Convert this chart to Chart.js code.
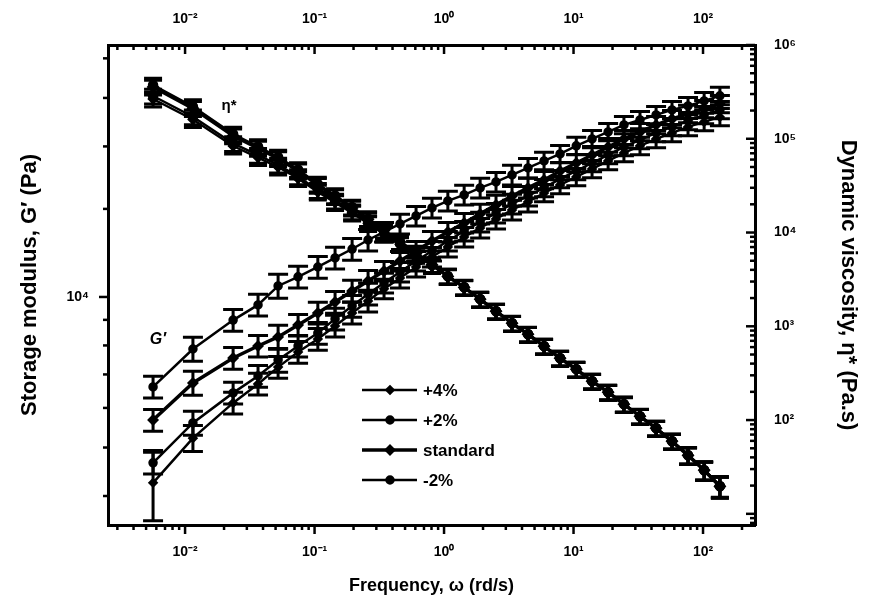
<!DOCTYPE html>
<html>
<head>
<meta charset="utf-8">
<title>Storage modulus and dynamic viscosity vs frequency</title>
<script src="https://cdn.jsdelivr.net/npm/chart.js@4.4.1/dist/chart.umd.min.js"></script>
<style>
  html, body { margin: 0; padding: 0; background: #fff; }
  #wrap { width: 875px; height: 608px; position: relative; }
</style>
</head>
<body>
<div id="wrap"><canvas id="chart"></canvas></div>
<script>
// frequency, rd/s
const freq = [0.00566, 0.0115, 0.0235, 0.0366, 0.0523, 0.0746, 0.106, 0.144, 0.195, 0.259, 0.344, 0.457, 0.608, 0.807,
  1.07, 1.43, 1.90, 2.52, 3.35, 4.45, 5.92, 7.87, 10.5, 13.9, 18.5, 24.5, 32.6, 43.4, 57.6, 76.6, 102, 135];

const seriesNames = ['+4%', '+2%', 'standard', '-2%'];

// storage modulus G' (Pa)
const gPlus4 = [4250, 5220, 6140, 6700, 7240, 7760, 8240, 8750, 9290, 9820, 10380, 10910, 11480, 12020, 12590, 13180,
  13740, 14320, 14930, 15490, 16140, 16750, 17380, 18030, 18710, 19410, 20050, 20700, 21280, 21880, 22390, 22910];
const gPlus2 = [4660, 5600, 6430, 6950, 7480, 7980, 8470, 9040, 9590, 10140, 10670, 11220, 11800, 12360, 12940, 13550,
  14130, 14720, 15350, 15920, 16520, 17220, 17860, 18530, 19230, 19950, 20610, 21280, 21880, 22490, 23120, 23660];
const gStd = [5675, 6730, 7550, 7980, 8320, 8790, 9290, 9770, 10280, 10760, 11270, 11800, 12360, 12940, 13490, 14060,
  14660, 15280, 15920, 16520, 17140, 17860, 18530, 19230, 19950, 20700, 21380, 22080, 22700, 23230, 23770, 24320];
const gMinus2 = [6610, 7870, 8990, 9640, 10520, 10970, 11480, 11970, 12470, 13000, 13490, 14000, 14520, 15070, 15560, 16000,
  16520, 16980, 17540, 18110, 18710, 19320, 20050, 20700, 21380, 22080, 22590, 23120, 23660, 24100, 24660, 25240];

// dynamic viscosity eta* (Pa.s)
const etaPlus4 = [265500, 160500, 83680, 63100, 49960, 37670, 27040, 20890, 16140, 12470, 9640, 7450, 5750, 4450, 3430, 2615,
  1948, 1452, 1080, 825, 615, 458, 350, 261, 199, 148, 110.5, 82.5, 60, 42.5, 29.5, 20];
const etaPlus2 = [285800, 171900, 89160, 66880, 52660, 39500, 28200, 21680, 16660, 12810, 9840, 7570, 5815, 4470, 3420, 2610,
  1950, 1450, 1080, 824, 614, 457, 349, 260, 198, 148, 110, 82, 59.5, 42.2, 29.2, 19.7];
const etaStd = [356500, 211000, 107700, 79530, 61690, 45530, 32010, 24210, 18320, 13860, 10480, 7930, 6000, 4540, 3400, 2600,
  1940, 1450, 1075, 822, 612, 456, 348, 259, 198, 147, 109.5, 81.6, 59.3, 42.0, 29.1, 19.6];
const etaMinus2 = [374500, 220800, 112400, 82670, 63890, 46990, 32920, 24800, 18710, 14110, 10630, 8020, 6045, 4556, 3436, 2622,
  1953, 1455, 1083, 827, 616, 459, 350, 261, 199, 148, 110, 82.2, 59.7, 42.3, 29.3, 19.8];

// relative error (fraction of value)
const errG = [0.05, 0.055, 0.05, 0.05, 0.055, 0.05, 0.05, 0.05, 0.05, 0.05, 0.045, 0.045, 0.045, 0.045, 0.045, 0.045,
  0.045, 0.045, 0.045, 0.045, 0.04, 0.04, 0.04, 0.04, 0.04, 0.04, 0.04, 0.04, 0.04, 0.04, 0.04, 0.04];
const errGPlus4 = [0.16, 0.06, 0.05, 0.05, 0.05, 0.05, 0.05, 0.05, 0.05, 0.05, 0.045, 0.045, 0.045, 0.045, 0.045, 0.045,
  0.045, 0.045, 0.045, 0.045, 0.04, 0.04, 0.04, 0.04, 0.04, 0.04, 0.04, 0.04, 0.04, 0.04, 0.04, 0.04];
const errEta = [0.18, 0.18, 0.18, 0.18, 0.18, 0.18, 0.18, 0.18, 0.18, 0.18, 0.18, 0.18, 0.18, 0.18, 0.18, 0.18,
  0.18, 0.18, 0.18, 0.18, 0.18, 0.18, 0.18, 0.18, 0.18, 0.18, 0.18, 0.18, 0.18, 0.2, 0.22, 0.25];

// axis ranges and ticks
const freqMin = 0.00254, freqMax = 252;
const gMin = 3500, gMax = 31900;
const etaMin = 7.6, etaMax = 1000000;

const xMajor = [0.01, 0.1, 1, 10, 100];
const xTickLabels = ['10⁻²', '10⁻¹', '10⁰', '10¹', '10²'];
const xMinor = [0.003, 0.004, 0.005, 0.006, 0.007, 0.008, 0.009, 0.02, 0.03, 0.04, 0.05, 0.06, 0.07, 0.08, 0.09,
  0.2, 0.3, 0.4, 0.5, 0.6, 0.7, 0.8, 0.9, 2, 3, 4, 5, 6, 7, 8, 9, 20, 30, 40, 50, 60, 70, 80, 90, 200];
const gMajor = [10000];
const gTickLabels = ['10⁴'];
const gMinor = [4000, 5000, 6000, 7000, 8000, 9000, 15000, 20000, 25000, 30000];
const etaMajor = [10, 100, 1000, 10000, 100000, 1000000];
const etaTickLabels = ['', '10²', '10³', '10⁴', '10⁵', '10⁶'];
const etaMinor = [8, 9, 20, 30, 40, 50, 60, 70, 80, 90, 200, 300, 400, 500, 600, 700, 800, 900,
  2000, 3000, 4000, 5000, 6000, 7000, 8000, 9000, 20000, 30000, 40000, 50000, 60000, 70000, 80000, 90000,
  200000, 300000, 400000, 500000, 600000, 700000, 800000, 900000];

const FONT = 'Liberation Sans, Arial, Helvetica, sans-serif';

// line look per series (+4%, +2%, standard, -2%)
const lineWidths = [2.5, 2.5, 3.5, 2.5];
const markers = ['rectRot', 'circle', 'rectRot', 'circle'];

const gSeries = [gPlus4, gPlus2, gStd, gMinus2];
const etaSeries = [etaPlus4, etaPlus2, etaStd, etaMinus2];
const gErrors = [errGPlus4, errG, errG, errG];

const toPoints = (ys) => freq.map((f, i) => ({ x: f, y: ys[i] }));

const datasets = [];
seriesNames.forEach((name, k) => {
    datasets.push({
        label: name,
        data: toPoints(gSeries[k]),
        yAxisID: 'y',
        errors: gErrors[k],
        capHalf: 10,
        borderColor: '#000',
        backgroundColor: '#000',
        borderWidth: lineWidths[k],
        pointStyle: markers[k],
        pointRadius: 3.5,
        showLine: true,
    });
});
seriesNames.forEach((name, k) => {
    datasets.push({
        label: name,
        data: toPoints(etaSeries[k]),
        yAxisID: 'y2',
        errors: errEta,
        capHalf: 9,
        borderColor: '#000',
        backgroundColor: '#000',
        borderWidth: lineWidths[k],
        pointStyle: markers[k],
        pointRadius: 4,
        showLine: true,
    });
});

// tick list builder for the fixed log ticks
const fixedTicks = (majors, minors) => (scale) => {
    scale.ticks = majors.concat(minors).sort((a, b) => a - b).map(v => ({ value: v }));
};
const labelFor = (majors, labels) => (value) => {
    const i = majors.indexOf(value);
    return i >= 0 ? labels[i] : '';
};

const tickFont = { family: FONT, weight: 'bold', size: 14 };
const titleFont = { family: FONT, weight: 'bold', size: 22 };
const noGrid = { display: false, drawTicks: false };
const axisLine = { display: true, color: '#000', width: 3 };

// draws tick marks on all four sides (inward on top and right)
const tickMarks = {
    id: 'tickMarks',
    afterDraw(chart) {
        const { ctx, chartArea: a } = chart;
        const sides = [
            { id: 'x', majors: xMajor, draw: (p, l) => [p, a.bottom, p, a.bottom + l] },
            { id: 'x2', majors: xMajor, draw: (p, l) => [p, a.top, p, a.top + l] },
            { id: 'y', majors: gMajor, draw: (p, l) => [a.left - l, p, a.left, p] },
            { id: 'y2', majors: etaMajor, draw: (p, l) => [a.right - l, p, a.right, p] },
        ];
        ctx.save();
        ctx.strokeStyle = '#000';
        ctx.lineWidth = 2.5;
        sides.forEach(s => {
            const scale = chart.scales[s.id];
            scale.ticks.forEach(t => {
                const p = scale.getPixelForValue(t.value);
                const len = s.majors.includes(t.value) ? 9 : 5;
                const [x1, y1, x2, y2] = s.draw(p, len);
                ctx.beginPath();
                ctx.moveTo(x1, y1);
                ctx.lineTo(x2, y2);
                ctx.stroke();
            });
        });
        ctx.restore();
    }
};

// I-shaped error bars, read through the dataset's own y scale
const errorBars = {
    id: 'errorBars',
    afterDatasetsDraw(chart) {
        const { ctx, chartArea: a } = chart;
        ctx.save();
        ctx.beginPath();
        ctx.rect(a.left, a.top, a.right - a.left, a.bottom - a.top);
        ctx.clip();
        ctx.strokeStyle = '#000';
        ctx.lineWidth = 3;
        chart.data.datasets.forEach((ds, di) => {
            if (!ds.errors) return;
            const meta = chart.getDatasetMeta(di);
            const yScale = chart.scales[ds.yAxisID];
            ds.data.forEach((pt, i) => {
                const e = ds.errors[i];
                const x = meta.data[i].x;
                const yLo = yScale.getPixelForValue(pt.y * (1 - e));
                const yHi = yScale.getPixelForValue(pt.y * (1 + e));
                const w = ds.capHalf;
                ctx.beginPath();
                ctx.moveTo(x, yLo); ctx.lineTo(x, yHi);
                ctx.moveTo(x - w, yLo); ctx.lineTo(x + w, yLo);
                ctx.moveTo(x - w, yHi); ctx.lineTo(x + w, yHi);
                ctx.stroke();
            });
        });
        ctx.restore();
    }
};

// curve names G' and eta*, placed next to the -2% points
const curveNames = {
    id: 'curveNames',
    afterDatasetsDraw(chart) {
        const ctx = chart.ctx;
        const gPt = chart.getDatasetMeta(3).data[1];
        const etaPt = chart.getDatasetMeta(7).data[2];
        ctx.save();
        ctx.fillStyle = '#000';
        ctx.textAlign = 'center';
        ctx.textBaseline = 'middle';
        ctx.font = 'italic bold 16px ' + FONT;
        ctx.fillText('G′', gPt.x - 35, gPt.y - 9);
        ctx.font = 'bold 15px ' + FONT;
        ctx.fillText('η*', etaPt.x - 4, etaPt.y - 28);
        ctx.restore();
    }
};

// legend box inside the plot, under the curves
const legendBox = {
    id: 'legendBox',
    afterDraw(chart) {
        const { ctx, chartArea: a } = chart;
        const x0 = a.left + 254;
        let y = a.top + 345;
        ctx.save();
        ctx.fillStyle = '#000';
        ctx.strokeStyle = '#000';
        ctx.font = 'bold 17px ' + FONT;
        ctx.textBaseline = 'middle';
        chart.data.datasets.slice(0, 4).forEach(ds => {
            ctx.lineWidth = ds.borderWidth;
            ctx.beginPath();
            ctx.moveTo(x0, y);
            ctx.lineTo(x0 + 55, y);
            ctx.stroke();
            Chart.helpers.drawPoint(ctx, { pointStyle: ds.pointStyle, radius: 3.5, rotation: 0, borderWidth: 1 }, x0 + 28, y);
            ctx.fillText(ds.label, x0 + 61, y + 1);
            y += 30;
        });
        ctx.restore();
    }
};

new Chart(document.getElementById('chart'), {
    type: 'scatter',
    data: { datasets },
    options: {
        responsive: true,
        maintainAspectRatio: false,
        animation: false,
        layout: { padding: 0 },
        plugins: {
            legend: { display: false },
            tooltip: { enabled: false },
        },
        scales: {
            x: {
                type: 'logarithmic',
                position: 'bottom',
                min: freqMin,
                max: freqMax,
                bounds: 'data',
                grid: noGrid,
                border: axisLine,
                afterBuildTicks: fixedTicks(xMajor, xMinor),
                afterFit: (s) => { s.height = 83; },
                ticks: {
                    autoSkip: false, maxRotation: 0, padding: 19, color: '#000', font: tickFont,
                    callback: labelFor(xMajor, xTickLabels),
                },
                title: {
                    display: true, text: 'Frequency, ω (rd/s)', color: '#000',
                    font: { family: FONT, weight: 'bold', size: 18 }, padding: { top: 0, bottom: 11 },
                },
            },
            x2: {
                type: 'logarithmic',
                position: 'top',
                min: freqMin,
                max: freqMax,
                bounds: 'data',
                grid: noGrid,
                border: axisLine,
                afterBuildTicks: fixedTicks(xMajor, xMinor),
                afterFit: (s) => { s.height = 45; },
                ticks: {
                    autoSkip: false, maxRotation: 0, padding: 17, color: '#000', font: tickFont,
                    callback: labelFor(xMajor, xTickLabels),
                },
            },
            y: {
                type: 'logarithmic',
                position: 'left',
                min: gMin,
                max: gMax,
                bounds: 'data',
                grid: noGrid,
                border: axisLine,
                afterBuildTicks: fixedTicks(gMajor, gMinor),
                afterFit: (s) => { s.width = 108; },
                ticks: {
                    autoSkip: false, padding: 19, color: '#000', font: tickFont,
                    callback: labelFor(gMajor, gTickLabels),
                },
                title: {
                    display: true, text: 'Storage modulus, G′ (Pa)', color: '#000',
                    font: titleFont, padding: { top: 17, bottom: 0 },
                },
            },
            y2: {
                type: 'logarithmic',
                position: 'right',
                min: etaMin,
                max: etaMax,
                bounds: 'data',
                grid: noGrid,
                border: axisLine,
                afterBuildTicks: fixedTicks(etaMajor, etaMinor),
                afterFit: (s) => { s.width = 120; },
                ticks: {
                    autoSkip: false, padding: 19, color: '#000', font: tickFont,
                    callback: labelFor(etaMajor, etaTickLabels),
                },
                title: {
                    display: true, text: 'Dynamic viscosity, η* (Pa.s)', color: '#000',
                    font: titleFont, padding: { top: 14, bottom: 0 },
                },
            },
        },
    },
    plugins: [errorBars, curveNames, tickMarks, legendBox],
});
</script>
</body>
</html>
